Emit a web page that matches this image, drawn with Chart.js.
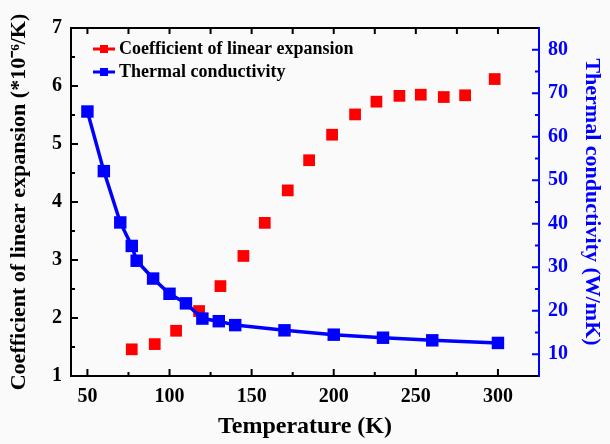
<!DOCTYPE html>
<html>
<head>
<meta charset="utf-8">
<script src="https://cdn.jsdelivr.net/npm/chart.js@4.4.1/dist/chart.umd.min.js"></script>
<style>
  html, body { margin: 0; padding: 0; background: #fafafa; }
  #wrap { width: 610px; height: 444px; }
</style>
</head>
<body>
<div id="wrap"><canvas id="chart" width="610" height="444"></canvas></div>
<script>
// Coefficient of linear expansion (red squares)
const cteTemps = [77, 91, 104, 118, 131, 145, 158, 172, 185, 199, 213, 226, 240, 253, 267, 280, 298];
const cteValues = [1.46, 1.55, 1.78, 2.12, 2.55, 3.07, 3.64, 4.20, 4.72, 5.16, 5.51, 5.73, 5.83, 5.85, 5.81, 5.84, 6.12];

// Thermal conductivity (blue line + squares)
const tcTemps = [50, 60, 70, 77, 80, 90, 100, 110, 120, 130, 140, 170, 200, 230, 260, 300];
const tcValues = [65.8, 52.1, 40.3, 34.9, 31.5, 27.4, 23.9, 21.7, 18.2, 17.6, 16.7, 15.5, 14.5, 13.8, 13.2, 12.6];

// tick labels
const xTicks = [50, 100, 150, 200, 250, 300];
const xMinorTicks = [75, 125, 175, 225, 275, 325];
const yTicks = [1, 2, 3, 4, 5, 6, 7];
const yMinorTicks = [1.5, 2.5, 3.5, 4.5, 5.5, 6.5];
const y2Ticks = [10, 20, 30, 40, 50, 60, 70, 80];
const y2Minor = [5, 15, 25, 35, 45, 55, 65, 75, 85];

const legendLabels = ['Coefficient of linear expansion', 'Thermal conductivity'];

const RED = '#ff0000';
const BLUE = '#0000ff';
const SERIF = "'Liberation Serif', 'Times New Roman', serif";

const toPoints = (xs, ys) => xs.map((x, i) => ({ x: x, y: ys[i] }));

// cadre + graduations vers l'intérieur
const framePlugin = {
    id: 'frame',
    afterDraw(chart) {
        const { ctx, chartArea: a, scales } = chart;
        const x = scales.x, y = scales.y, y2 = scales.y2;
        ctx.save();
        ctx.lineWidth = 2;
        ctx.lineCap = 'square';

        ctx.strokeStyle = '#000';
        ctx.beginPath();
        ctx.moveTo(a.right, a.top); ctx.lineTo(a.left, a.top);
        ctx.lineTo(a.left, a.bottom); ctx.lineTo(a.right, a.bottom);
        ctx.stroke();

        ctx.lineCap = 'butt';
        ctx.beginPath();
        xTicks.forEach(v => {
            const px = x.getPixelForValue(v);
            ctx.moveTo(px, a.bottom); ctx.lineTo(px, a.bottom - 7);
            ctx.moveTo(px, a.top); ctx.lineTo(px, a.top + 6);
        });
        xMinorTicks.forEach(v => {
            const px = x.getPixelForValue(v);
            if (px > a.right - 2) return;
            ctx.moveTo(px, a.bottom); ctx.lineTo(px, a.bottom - 4);
            ctx.moveTo(px, a.top); ctx.lineTo(px, a.top + 6);
        });
        yTicks.forEach(v => {
            const py = y.getPixelForValue(v);
            ctx.moveTo(a.left, py); ctx.lineTo(a.left + 7, py);
        });
        yMinorTicks.forEach(v => {
            const py = y.getPixelForValue(v);
            ctx.moveTo(a.left, py); ctx.lineTo(a.left + 4, py);
        });
        ctx.stroke();

        ctx.strokeStyle = BLUE;
        ctx.lineCap = 'square';
        ctx.beginPath();
        ctx.moveTo(a.right, a.top); ctx.lineTo(a.right, a.bottom);
        ctx.stroke();
        ctx.lineCap = 'butt';
        ctx.beginPath();
        y2Ticks.forEach(v => {
            const py = y2.getPixelForValue(v);
            ctx.moveTo(a.right, py); ctx.lineTo(a.right - 7, py);
        });
        y2Minor.forEach(v => {
            const py = y2.getPixelForValue(v);
            if (py < a.top + 2 || py > a.bottom - 2) return;
            ctx.moveTo(a.right, py); ctx.lineTo(a.right - 4, py);
        });
        ctx.stroke();

        // légende
        const colors = [RED, BLUE];
        ctx.font = 'bold 18px ' + SERIF;
        ctx.textBaseline = 'middle';
        ctx.textAlign = 'left';
        legendLabels.forEach((label, i) => {
            const ly = a.top + 21 + i * 23;
            ctx.strokeStyle = colors[i];
            ctx.fillStyle = colors[i];
            ctx.lineWidth = 3;
            ctx.beginPath();
            ctx.moveTo(93, ly); ctx.lineTo(115, ly);
            ctx.stroke();
            ctx.fillRect(100, ly - 4, 8, 8);
            ctx.fillStyle = '#000';
            ctx.fillText(label, 119, ly);
        });
        ctx.restore();
    }
};

const setTicks = list => scale => { scale.ticks = list.map(v => ({ value: v })); };

new Chart(document.getElementById('chart').getContext('2d'), {
    type: 'scatter',
    data: {
        datasets: [{
            label: legendLabels[1],
            data: toPoints(tcTemps, tcValues),
            yAxisID: 'y2',
            order: 0,
            showLine: true,
            borderColor: BLUE,
            backgroundColor: BLUE,
            borderWidth: 3.5,
            pointStyle: 'rect',
            pointRadius: 8.8,
            pointBorderWidth: 0,
            pointBackgroundColor: BLUE
        }, {
            label: legendLabels[0],
            data: toPoints(cteTemps, cteValues),
            yAxisID: 'y',
            order: 1,
            showLine: false,
            backgroundColor: RED,
            borderColor: RED,
            pointStyle: 'rect',
            pointRadius: 8.3,
            pointBorderWidth: 0
        }]
    },
    options: {
        responsive: false,
        animation: false,
        layout: { padding: { top: 28, left: 0, right: 0, bottom: 0 } },
        plugins: {
            legend: { display: false },
            tooltip: { enabled: false },
            title: { display: false }
        },
        scales: {
            x: {
                type: 'linear',
                min: 40,
                max: 325,
                afterBuildTicks: setTicks(xTicks),
                afterFit: s => { s.height = 68; },
                grid: { display: false, drawTicks: false },
                border: { display: false },
                ticks: {
                    color: '#000',
                    padding: 9,
                    font: { family: SERIF, size: 20, weight: 'bold' }
                },
                title: {
                    display: true,
                    text: 'Temperature (K)',
                    color: '#000',
                    padding: { top: 0, bottom: 3 },
                    font: { family: SERIF, size: 24, weight: 'bold' }
                }
            },
            y: {
                type: 'linear',
                position: 'left',
                min: 1,
                max: 7,
                afterBuildTicks: setTicks(yTicks),
                afterFit: s => { s.width = 71; },
                grid: { display: false, drawTicks: false },
                border: { display: false },
                ticks: {
                    color: '#000',
                    padding: 9,
                    font: { family: SERIF, size: 20, weight: 'bold' }
                },
                title: {
                    display: true,
                    text: 'Coefficient of linear expansion (*10⁻⁶/K)',
                    color: '#000',
                    padding: { top: 6, bottom: 0 },
                    font: { family: SERIF, size: 22, weight: 'bold' }
                }
            },
            y2: {
                type: 'linear',
                position: 'right',
                min: 5,
                max: 85,
                afterBuildTicks: setTicks(y2Ticks),
                afterFit: s => { s.width = 71; },
                grid: { display: false, drawTicks: false },
                border: { display: false },
                ticks: {
                    color: BLUE,
                    padding: 9,
                    font: { family: SERIF, size: 20, weight: 'bold' }
                },
                title: {
                    display: true,
                    text: 'Thermal conductivity (W/mK)',
                    color: BLUE,
                    padding: { top: 5, bottom: 0 },
                    font: { family: SERIF, size: 22, weight: 'bold' }
                }
            }
        }
    },
    plugins: [framePlugin]
});
</script>
</body>
</html>
